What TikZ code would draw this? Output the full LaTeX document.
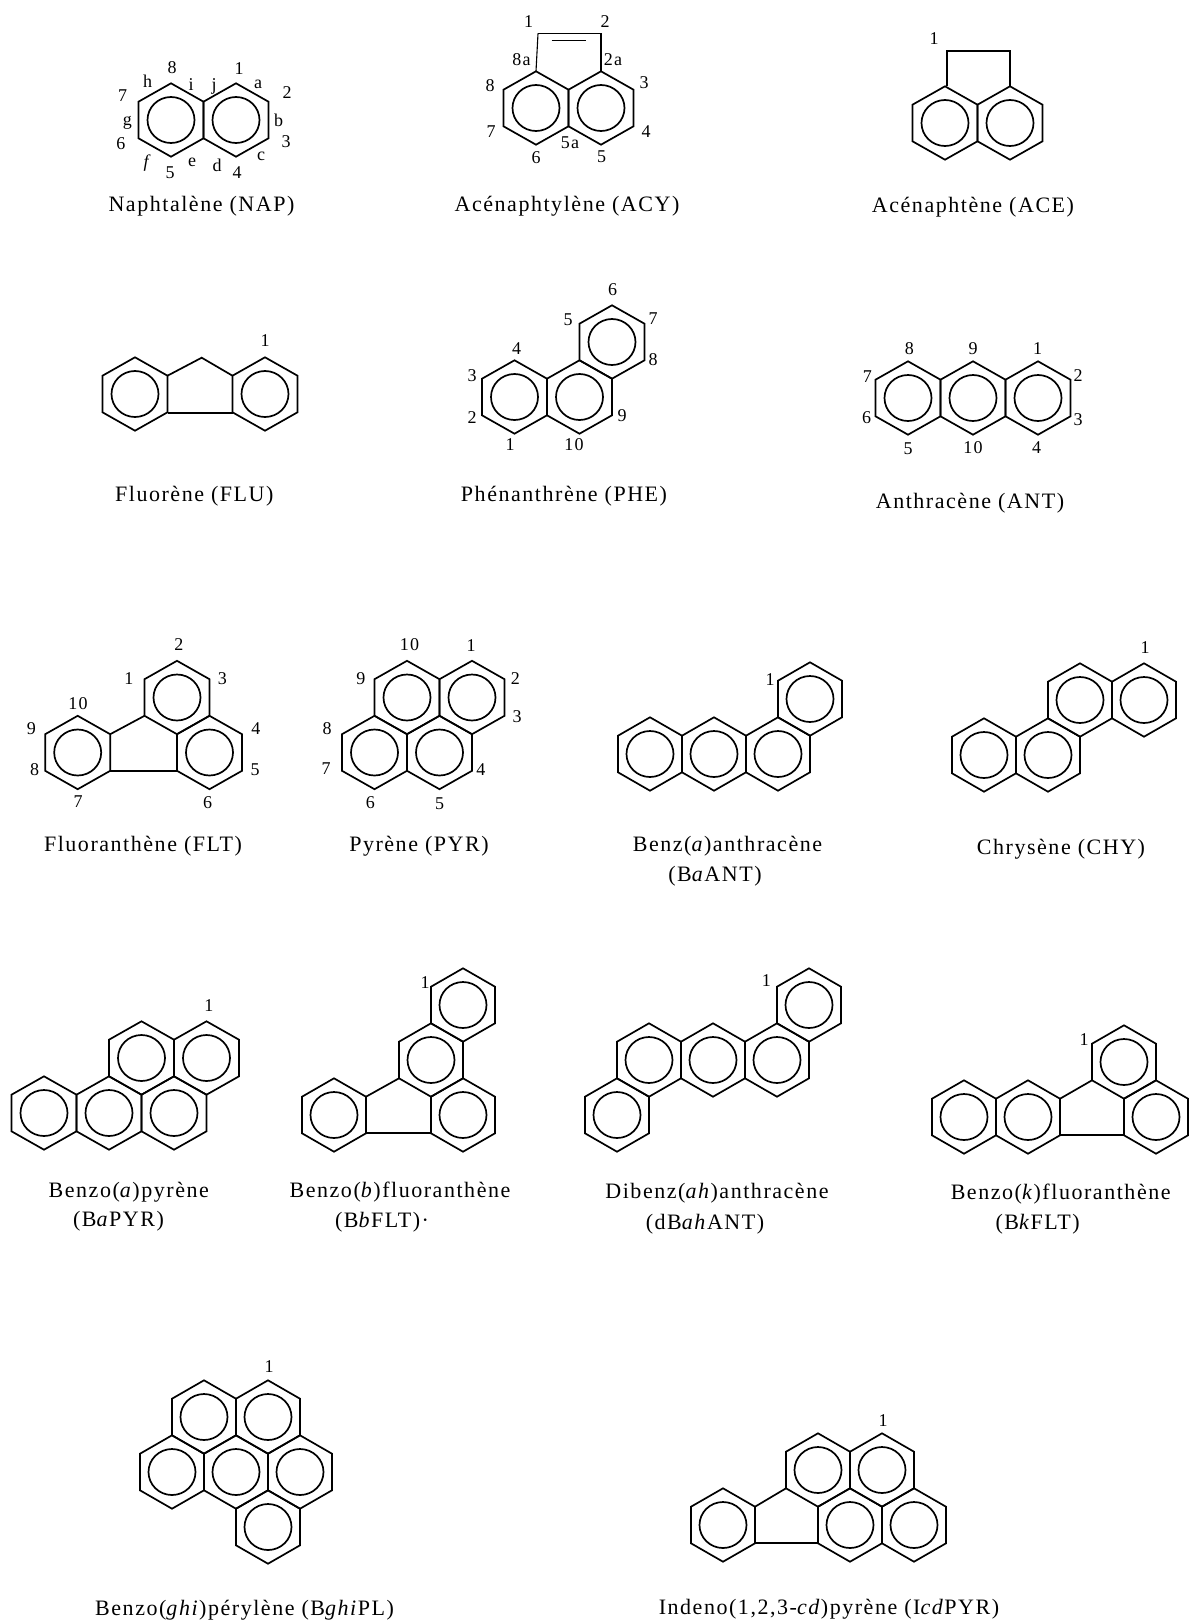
\documentclass[tikz,border=0pt]{standalone}
\usepackage{fontspec}
\setmainfont[LetterSpace=7]{Liberation Serif}
\newcounter{lbn}
\def\rw{32.5}
\tikzset{
  bond/.style={line width=1.7pt,line join=miter,black},
  thinbond/.style={line width=1.1pt,black},
  lbl/.style={inner sep=0pt,font=\fontsize{18}{20}\selectfont,text=black},
  capt/.style={inner sep=0pt,yshift=-3pt,font=\fontsize{22}{26}\selectfont,text=black}
}
\newcommand\ring[2]{\draw[bond,shift={(#1,#2)}] (-\rw,-18.3)--(0,-36.7)--(\rw,-18.3)--(\rw,18.3)--(0,36.7)--(-\rw,18.3)--cycle (0,0) ellipse[x radius=23.5,y radius=23];}
\newcommand\lab[3]{\stepcounter{lbn}\node[lbl] (lab\thelbn) at (#1,#2) {#3};}
\newcommand\capline[3]{\stepcounter{lbn}\node[capt] (cap\thelbn) at (#1,#2) {#3};}
\begin{document}
\begin{tikzpicture}[x=1pt,y=-1pt]
\useasboundingbox[fill=white] (0,0) rectangle (1190,1622);
% NAP
\ring{171}{120}\ring{236}{120}
\lab{172}{68}{8}\lab{239}{69}{1}\lab{147.7}{81.7}{h}\lab{191}{85}{i}\lab{214}{86}{j}\lab{258}{84}{a}
\lab{287}{93}{2}\lab{122.7}{95.7}{7}\lab{127.3}{122.7}{g}\lab{278.5}{120.7}{b}\lab{120.8}{144}{6}\lab{286}{141.7}{3}
\lab{261}{156.7}{c}\lab{147.7}{163}{\textit{f}}\lab{192}{162}{e}\lab{217}{165.7}{d}\lab{170}{173}{5}\lab{237}{173}{4}
\capline{201.5}{203}{Naphtalène (NAP)}
% ACY
\ring{536}{108}\ring{601}{108}
\draw[bond] (538,33.5)--(601,33.5)--(601,71.3);
\draw[thinbond] (538,33.5)--(536,71.3);
\draw[thinbond] (551.5,40.7)--(586,40.7);
\lab{528.5}{21.7}{1}\lab{605}{21.7}{2}\lab{521.5}{60}{8a}\lab{613}{60}{2a}\lab{490}{86}{8}\lab{644}{83}{3}
\lab{491}{131.7}{7}\lab{646}{131.7}{4}\lab{570}{142.7}{5a}\lab{536}{158}{6}\lab{601.5}{156.7}{5}
\capline{567}{203}{Acénaphtylène (ACY)}
% ACE
\ring{945}{123}\ring{1010}{123}
\draw[bond] (947,86.3)--(947,50.7)--(1010,50.7)--(1010,86.3);
\lab{934}{39}{1}
\capline{973}{204}{Acénaphtène (ACE)}
% FLU
\ring{135}{394}\ring{265}{394}
\draw[bond] (167.5,375.7)--(201.7,357.7)--(232.5,375.7);
\draw[bond] (167.5,412.7)--(232.5,412.7);
\lab{265}{341}{1}
\capline{194.3}{493}{Fluorène (FLU)}
% PHE
\ring{514.5}{397}\ring{579.5}{397}\ring{612}{342}
\lab{612.7}{290}{6}\lab{653}{319}{7}\lab{653}{360}{8}\lab{622}{415.7}{9}\lab{568}{320}{5}\lab{516.7}{349}{4}
\lab{472}{376}{3}\lab{472}{417.7}{2}\lab{510}{445}{1}\lab{574}{445}{10}
\capline{564}{493}{Phénanthrène (PHE)}
% ANT
\ring{908}{398}\ring{973}{398}\ring{1038}{398}
\lab{909.3}{348.3}{8}\lab{973}{349}{9}\lab{1037.7}{348.3}{1}\lab{867.3}{376.7}{7}\lab{1078}{376}{2}\lab{866.7}{417.7}{6}
\lab{1078}{420}{3}\lab{908}{448.3}{5}\lab{973}{447.7}{10}\lab{1036.7}{447.7}{4}
\capline{970}{500}{Anthracène (ANT)}
% FLT
\ring{77.7}{752.5}\ring{177}{697.5}\ring{209.5}{752.5}
\draw[bond] (110.2,734.2)--(144.5,715.8);
\draw[bond] (110.2,770.8)--(177,770.8);
\lab{178.8}{644.3}{2}\lab{128.8}{678.3}{1}\lab{222.3}{678.3}{3}\lab{78}{703.3}{10}\lab{255.8}{729}{4}\lab{31.5}{729}{9}
\lab{34.6}{769.3}{8}\lab{255}{770}{5}\lab{78}{801.7}{7}\lab{207.7}{802.3}{6}
\capline{143}{843}{Fluoranthène (FLT)}
% PYR
\ring{407}{697.5}\ring{472}{697.5}\ring{374.5}{752.5}\ring{439.5}{752.5}
\lab{409.6}{645}{10}\lab{471}{646}{1}\lab{360.8}{678.3}{9}\lab{515.4}{678.3}{2}\lab{517}{716.7}{3}\lab{327}{729}{8}
\lab{326}{768.3}{7}\lab{480.8}{770}{4}\lab{370.4}{802.3}{6}\lab{439.6}{803.3}{5}
\capline{419}{843}{Pyrène (PYR)}
% BaANT
\def\rw{32}
\ring{650}{754}\ring{714}{754}\ring{778}{754}\ring{810}{699}
\lab{770}{680}{1}
\capline{727.5}{843}{Benz(\textit{a})anthracène}
\capline{715}{873}{(B\textit{a}ANT)}
% CHY
\ring{984}{755}\ring{1048}{755}\ring{1080}{700}\ring{1144}{700}
\lab{1145}{648}{1}
\capline{1061}{846}{Chrysène (CHY)}
% BaPYR
\def\rw{32.5}
\ring{44}{1113}\ring{109}{1113}\ring{174}{1113}\ring{141.5}{1058}\ring{206.5}{1058}
\lab{208.8}{1006}{1}
\capline{128.8}{1189.5}{Benzo(\textit{a})pyrène}
\capline{118.5}{1218.5}{(B\textit{a}PYR)}
% BbFLT
\def\rw{32}
\ring{463}{1005}\ring{431}{1060}\ring{463}{1115}\ring{334}{1115}
\draw[bond] (366,1096.7)--(399,1078.3);
\draw[bond] (366,1133.3)--(431,1133.3);
\lab{425}{982.3}{1}
\capline{400}{1188.7}{Benzo(\textit{b})fluoranthène}
\capline{382}{1218.7}{(B\textit{b}FLT)·}
% dBahANT
\ring{809}{1005}\ring{649}{1060}\ring{713}{1060}\ring{777}{1060}\ring{617}{1115}
\lab{766.4}{980.7}{1}
\capline{717}{1189.7}{Dibenz(\textit{ah})anthracène}
\capline{705}{1220.7}{(dB\textit{ah}ANT)}
% BkFLT
\ring{964}{1117}\ring{1028}{1117}\ring{1124}{1062}\ring{1156}{1117}
\draw[bond] (1060,1098.7)--(1092,1080.3);
\draw[bond] (1060,1135.3)--(1124,1135.3);
\lab{1084}{1040}{1}
\capline{1060.7}{1190.7}{Benzo(\textit{k})fluoranthène}
\capline{1037.6}{1220.7}{(B\textit{k}FLT)}
% BghiPL
\ring{204}{1417}\ring{268}{1417}\ring{172}{1472}\ring{236}{1472}\ring{300}{1472}\ring{268}{1527}
\lab{269}{1366.7}{1}
\capline{244.6}{1607}{Benzo(\textit{ghi})pérylène (B\textit{ghi}PL)}
% IcdPYR
\ring{723}{1525}\ring{818}{1470}\ring{882}{1470}\ring{850}{1525}\ring{914}{1525}
\draw[bond] (755,1506.7)--(786,1488.3);
\draw[bond] (755,1543.3)--(818,1543.3);
\lab{883}{1421}{1}
\capline{829}{1606}{Indeno(1,2,3-\textit{cd})pyrène (I\textit{cd}PYR)}
\end{tikzpicture}
\end{document}
